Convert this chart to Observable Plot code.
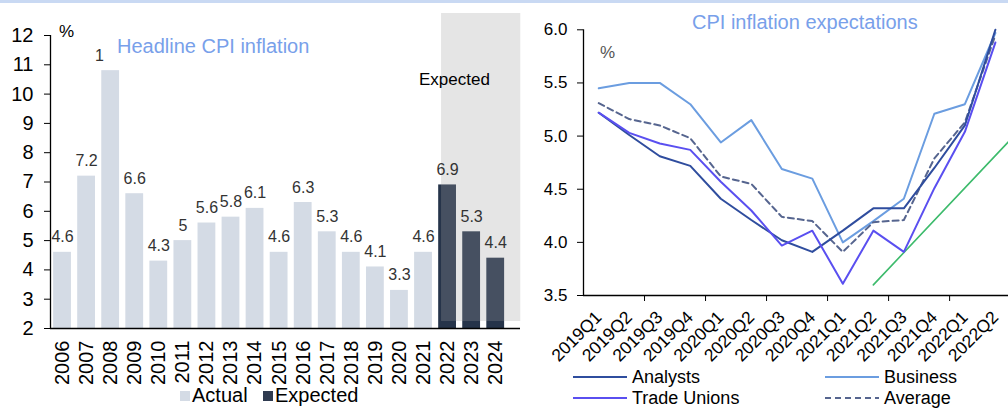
<!DOCTYPE html>
<html>
<head>
<meta charset="utf-8">
<script src="https://cdn.jsdelivr.net/npm/d3@7"></script>
<script src="https://cdn.jsdelivr.net/npm/@observablehq/plot@0.6"></script>
<style>
  html, body { margin: 0; padding: 0; background: #fff; overflow: hidden; }
  body { width: 1008px; height: 410px; position: relative; font-family: "Liberation Sans", Arial, sans-serif; }
  .panel { position: absolute; top: 0; }
  #overlay { position: absolute; left: 0; top: 0; pointer-events: none; }
</style>
</head>
<body>
<div id="left" class="panel" style="left:0px"></div>
<div id="right" class="panel" style="left:530px"></div>
<svg id="overlay" width="1008" height="410"></svg>
<script>
const FONT = '"Liberation Sans", Arial, sans-serif';

// Headline CPI inflation, annual %
const years = [2006, 2007, 2008, 2009, 2010, 2011, 2012, 2013, 2014, 2015, 2016, 2017, 2018, 2019, 2020, 2021, 2022, 2023, 2024];
const headline = [4.6, 7.2, 10.8, 6.6, 4.3, 5.0, 5.6, 5.8, 6.1, 4.6, 6.3, 5.3, 4.6, 4.1, 3.3, 4.6, 6.9, 5.3, 4.4];
const firstExpectedYear = 2022;
const barLegend = ["Actual", "Expected"];

// CPI inflation expectations by survey group, %
const quarters = ["2019Q1", "2019Q2", "2019Q3", "2019Q4", "2020Q1", "2020Q2", "2020Q3", "2020Q4", "2021Q1", "2021Q2", "2021Q3", "2021Q4", "2022Q1", "2022Q2"];
const analysts    = [5.22, 5.01, 4.81, 4.72, 4.41, 4.21, 4.02, 3.91, 4.11, 4.32, 4.32, 4.70, 5.10, 6.00];
const business    = [5.45, 5.50, 5.50, 5.30, 4.94, 5.15, 4.69, 4.60, 4.00, 4.20, 4.41, 5.21, 5.30, 5.97];
const tradeUnions = [5.22, 5.03, 4.93, 4.87, 4.57, 4.30, 3.97, 4.11, 3.61, 4.11, 3.91, 4.51, 5.04, 5.88];
const average     = [5.31, 5.16, 5.10, 4.98, 4.62, 4.55, 4.24, 4.20, 3.91, 4.19, 4.21, 4.79, 5.13, 5.95];
// straight guide line: [quarter, value] at its two ends
const guideLine = [["2021Q2", 3.60], ["2022Q3", 5.12]];

const seriesStyle = [
  {name: "Analysts",     values: analysts,    color: "#2f4d9e", dash: null},
  {name: "Business",     values: business,    color: "#6b9de0", dash: null},
  {name: "Trade Unions", values: tradeUnions, color: "#5a4ff0", dash: null},
  {name: "Average",      values: average,     color: "#56658f", dash: "6,4"}
];

// ---------- left panel: annual bars ----------
const bars = years.map((year, i) => ({year, i, value: headline[i], expected: year >= firstExpectedYear}));
const firstExp = bars.findIndex(d => d.expected);
const lastExp = bars.length - 1;
const ACTUAL = "#d4dbe5", EXPECTED = "#26344a";

const leftPlot = Plot.plot({
  width: 530, height: 410,
  marginTop: 35, marginBottom: 82, marginLeft: 50, marginRight: 10,
  style: {fontFamily: FONT, fontSize: "20px", color: "#000", background: "transparent"},
  x: {type: "linear", domain: [-0.5, 19.03], axis: null},
  y: {domain: [2, 12], axis: null},
  marks: [
    Plot.rect(bars.filter(d => !d.expected), {x1: d => d.i - 0.37, x2: d => d.i + 0.37, y1: 2, y2: "value", fill: ACTUAL}),
    Plot.rect(bars.filter(d => d.expected), {x1: d => d.i - 0.37, x2: d => d.i + 0.37, y1: 2, y2: "value", fill: EXPECTED}),
    // translucent band over the forecast years
    Plot.rect([{a: firstExp, b: lastExp}], {
      x1: d => d.a - 0.5, x2: d => d.b + 0.5, y1: 2, y2: 12,
      insetLeft: 6, insetRight: -13, insetTop: -22, insetBottom: 7,
      fill: "#a0a0a0", fillOpacity: 0.27
    }),
    Plot.ruleX([-0.5], {stroke: "#000", strokeWidth: 1.3}),
    Plot.ruleY([2], {stroke: "#000", strokeWidth: 1.3}),
    Plot.axisY({ticks: d3.range(2, 13), tickSize: 6, tickPadding: 11, fontSize: 20, label: null}),
    Plot.axisX({ticks: d3.range(years.length), tickFormat: i => String(years[i]), tickRotate: -90, tickSize: 0, tickPadding: 12, fontSize: 20, label: null}),
    Plot.text(bars, {x: "i", y: "value", text: d => String(d.value), lineAnchor: "bottom", dy: -10, fontSize: 16, fill: "#333"})
  ]
});
document.getElementById("left").appendChild(leftPlot);

// ---------- right panel: quarterly expectations ----------
const qIndex = s => (+s.slice(0, 4) - 2019) * 4 + (+s.slice(5) - 1);

const rightPlot = Plot.plot({
  width: 478, height: 410,
  marginTop: 29.3, marginBottom: 115, marginLeft: 53, marginRight: 0,
  style: {fontFamily: FONT, fontSize: "17px", color: "#000", background: "transparent"},
  x: {type: "linear", domain: [-0.5, 13.43], axis: null},
  y: {domain: [3.5, 6.0], axis: null},
  marks: [
    Plot.ruleX([-0.5], {stroke: "#000", strokeWidth: 1.3}),
    Plot.ruleY([3.5], {stroke: "#000", strokeWidth: 1.3}),
    Plot.axisY({ticks: d3.range(3.5, 6.01, 0.5), tickFormat: ".1f", tickSize: 6, tickPadding: 10, fontSize: 17, label: null}),
    Plot.axisX({ticks: d3.range(quarters.length), tickFormat: i => quarters[i], tickRotate: -45, tickSize: 0, tickPadding: 19, fontSize: 17.5, label: null}),
    Plot.axisX({ticks: d3.range(1.5, quarters.length - 1, 2), tickSize: 6, tickFormat: () => "", label: null}),
    Plot.line(guideLine, {x: d => qIndex(d[0]), y: d => d[1], stroke: "#3dbb6c", strokeWidth: 1.6, clip: true}),
    ...[1, 3, 0, 2].map(k => {
      const s = seriesStyle[k];
      return Plot.line(s.values, {
        x: (d, i) => i, y: d => d,
        stroke: s.color, strokeWidth: 2, strokeDasharray: s.dash, curve: "linear"
      });
    })
  ]
});
document.getElementById("right").appendChild(rightPlot);

// ---------- titles, unit labels and legends ----------
const ov = d3.select("#overlay").style("font-family", FONT);
ov.append("rect").attr("x", 0).attr("y", 0).attr("width", 1008).attr("height", 3).attr("fill", "#c9d9f3");

// left title sits in a white box
ov.append("rect").attr("x", 104).attr("y", 30).attr("width", 214).attr("height", 33).attr("fill", "#fff");
ov.append("text").attr("x", 117).attr("y", 53).attr("font-size", 20).attr("fill", "#78a0ea").text("Headline CPI inflation");
ov.append("text").attr("x", 59).attr("y", 37).attr("font-size", 17).attr("fill", "#000").text("%");
ov.append("text").attr("x", 419).attr("y", 85).attr("font-size", 17).attr("fill", "#000").text("Expected");

ov.append("text").attr("x", 692).attr("y", 29).attr("font-size", 20).attr("fill", "#78a0ea").text("CPI inflation expectations");
ov.append("text").attr("x", 600).attr("y", 58).attr("font-size", 17).attr("fill", "#555").text("%");

// bar legend
const barLegendPos = [{x: 180, color: ACTUAL}, {x: 263, color: "#2f3b50"}];
barLegend.forEach((name, k) => {
  const p = barLegendPos[k];
  ov.append("rect").attr("x", p.x).attr("y", 391).attr("width", 10).attr("height", 10).attr("fill", p.color);
  ov.append("text").attr("x", p.x + 12).attr("y", 402).attr("font-size", 20).attr("fill", "#000").text(name);
});

// line legend
const lineLegendPos = [{x: 573, y: 377}, {x: 825, y: 377}, {x: 573, y: 398}, {x: 825, y: 398}];
seriesStyle.forEach((s, k) => {
  const p = lineLegendPos[k];
  ov.append("line").attr("x1", p.x).attr("x2", p.x + 54).attr("y1", p.y).attr("y2", p.y)
    .attr("stroke", s.color).attr("stroke-width", 2).attr("stroke-dasharray", s.dash);
  ov.append("text").attr("x", p.x + 59).attr("y", p.y + 6).attr("font-size", 18).attr("fill", "#000").text(s.name);
});
</script>
</body>
</html>
